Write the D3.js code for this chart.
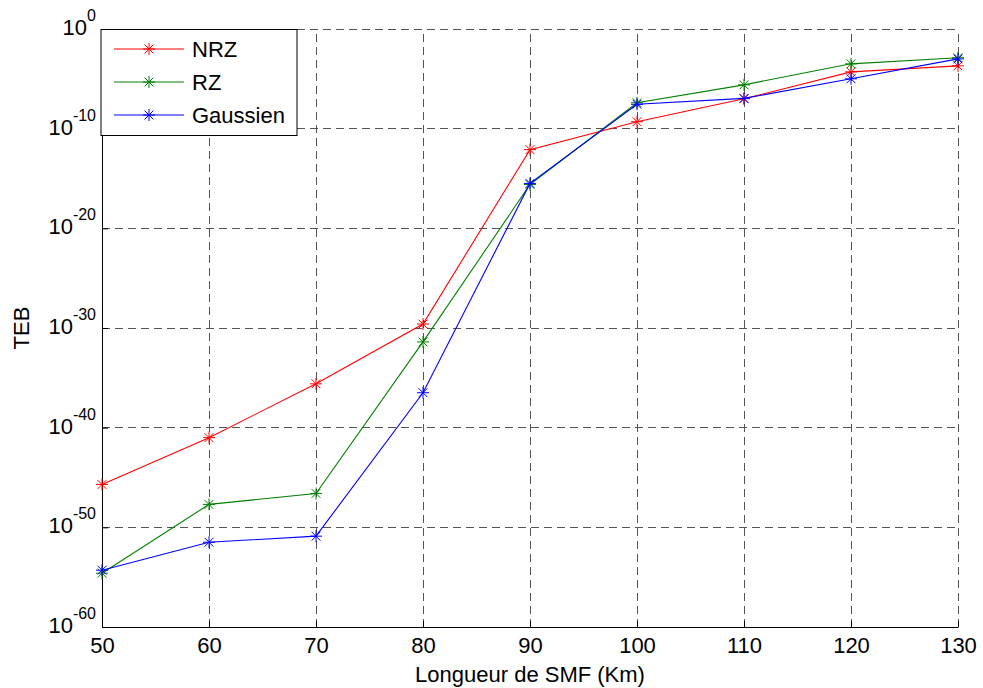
<!DOCTYPE html>
<html>
<head>
<meta charset="utf-8">
<script src="https://cdn.jsdelivr.net/npm/d3@7"></script>
<style>
  body { margin: 0; background: #fff; }
  svg { display: block; }
  text { font-family: Arial, "Liberation Sans", sans-serif; fill: #000; }
</style>
</head>
<body>
<script>
// ---- data ----
const distances = [50, 60, 70, 80, 90, 100, 110, 120, 130];
const nrz      = [2.0e-46, 1.0e-41, 2.5e-36, 2.5e-30, 7.9e-13, 5.0e-10, 1.0e-7, 5.0e-5, 2.0e-4];
const rz       = [2.5e-55, 2.0e-48, 2.5e-47, 4.0e-32, 2.5e-16, 4.0e-8, 2.5e-6, 3.2e-4, 1.3e-3];
const gaussien = [5.0e-55, 3.2e-52, 1.3e-51, 3.2e-37, 3.2e-16, 2.8e-8, 1.1e-7, 1.0e-5, 1.0e-3];
const seriesNames = ["NRZ", "RZ", "Gaussien"];
const seriesColors = ["#ff0000", "#008000", "#0000ff"];
const xTicks = [50, 60, 70, 80, 90, 100, 110, 120, 130];
const yTickExponents = [0, -10, -20, -30, -40, -50, -60];
const xLabel = "Longueur de SMF (Km)";
const yLabel = "TEB";

const W = 983, H = 688;
const m = { left: 102, right: 983 - 958, top: 29, bottom: 688 - 627 };
const FS = 22;

const svg = d3.select("body").append("svg").attr("width", W).attr("height", H);

const x = d3.scaleLinear().domain([50, 130]).range([m.left, W - m.right]);
const y = d3.scaleLog().domain([1e-60, 1]).range([H - m.bottom, m.top]);

const yTicks = yTickExponents.map(e => Math.pow(10, e));

// grid
const grid = svg.append("g").attr("stroke", "#555").attr("stroke-width", 1)
  .attr("stroke-dasharray", "8,5").attr("fill", "none");
xTicks.forEach(t => {
  grid.append("line").attr("x1", x(t)).attr("x2", x(t))
    .attr("y1", y(1e-60)).attr("y2", y(1)).attr("shape-rendering", "crispEdges");
});
yTicks.forEach(t => {
  grid.append("line").attr("x1", x(50)).attr("x2", x(130))
    .attr("y1", y(t)).attr("y2", y(t)).attr("shape-rendering", "crispEdges");
});

// axes
const xAxis = d3.axisBottom(x).tickValues(xTicks).tickSizeInner(-6).tickSizeOuter(0)
  .tickFormat(d3.format("d"));
const gx = svg.append("g").attr("transform", `translate(0,${y(1e-60)})`).call(xAxis);
gx.select(".domain").attr("stroke", "#000");
gx.selectAll(".tick line").attr("stroke", "#000");
gx.selectAll("text").attr("font-size", FS).attr("dy", "0.71em").attr("y", 10);

const yAxis = d3.axisLeft(y).tickValues(yTicks).tickSizeInner(-6).tickSizeOuter(0).tickFormat(() => "");
const gy = svg.append("g").attr("transform", `translate(${x(50)},0)`).call(yAxis);
gy.select(".domain").attr("stroke", "#000");
gy.selectAll(".tick line").attr("stroke", "#000");
gy.selectAll(".tick text").remove();

// y tick labels with superscripts
yTickExponents.forEach(e => {
  const t = svg.append("text")
    .attr("x", x(50) - 6)
    .attr("y", y(Math.pow(10, e)) + 6)
    .attr("text-anchor", "end")
    .attr("font-size", FS);
  t.append("tspan").text("10");
  t.append("tspan").attr("dy", -14).attr("font-size", 16).text(String(e));
});

// axis labels
svg.append("text").attr("x", (x(50) + x(130)) / 2).attr("y", 682)
  .attr("text-anchor", "middle").attr("font-size", FS).text(xLabel);
svg.append("text")
  .attr("transform", `translate(29,${(y(1) + y(1e-60)) / 2}) rotate(-90)`)
  .attr("text-anchor", "middle").attr("font-size", FS).text(yLabel);

// series
const allSeries = [nrz, rz, gaussien];
const line = d3.line().x((d, i) => x(distances[i])).y(d => y(d));

function asterisk(g, cx, cy, color) {
  const r = 6, d = 4.4;
  const p = `M${cx - r},${cy}L${cx + r},${cy}M${cx},${cy - r}L${cx},${cy + r}` +
            `M${cx - d},${cy - d}L${cx + d},${cy + d}M${cx - d},${cy + d}L${cx + d},${cy - d}`;
  g.append("path").attr("d", p).attr("stroke", color).attr("stroke-width", 1).attr("fill", "none");
}

allSeries.forEach((vals, si) => {
  const g = svg.append("g");
  g.append("path").datum(vals).attr("d", line)
    .attr("fill", "none").attr("stroke", seriesColors[si]).attr("stroke-width", 1.1);
  vals.forEach((v, i) => asterisk(g, x(distances[i]), y(v), seriesColors[si]));
});

// legend
const lg = svg.append("g");
lg.append("rect").attr("x", 101).attr("y", 29.5).attr("width", 196).attr("height", 106)
  .attr("fill", "#fff").attr("stroke", "#000").attr("stroke-width", 1);
const legendY = [49, 82, 115];
seriesNames.forEach((name, i) => {
  lg.append("line").attr("x1", 114).attr("x2", 184).attr("y1", legendY[i]).attr("y2", legendY[i])
    .attr("stroke", seriesColors[i]).attr("stroke-width", 1.1);
  asterisk(lg, 149, legendY[i], seriesColors[i]);
  lg.append("text").attr("x", 192).attr("y", legendY[i] + 8).attr("font-size", FS).text(name);
});
</script>
</body>
</html>
